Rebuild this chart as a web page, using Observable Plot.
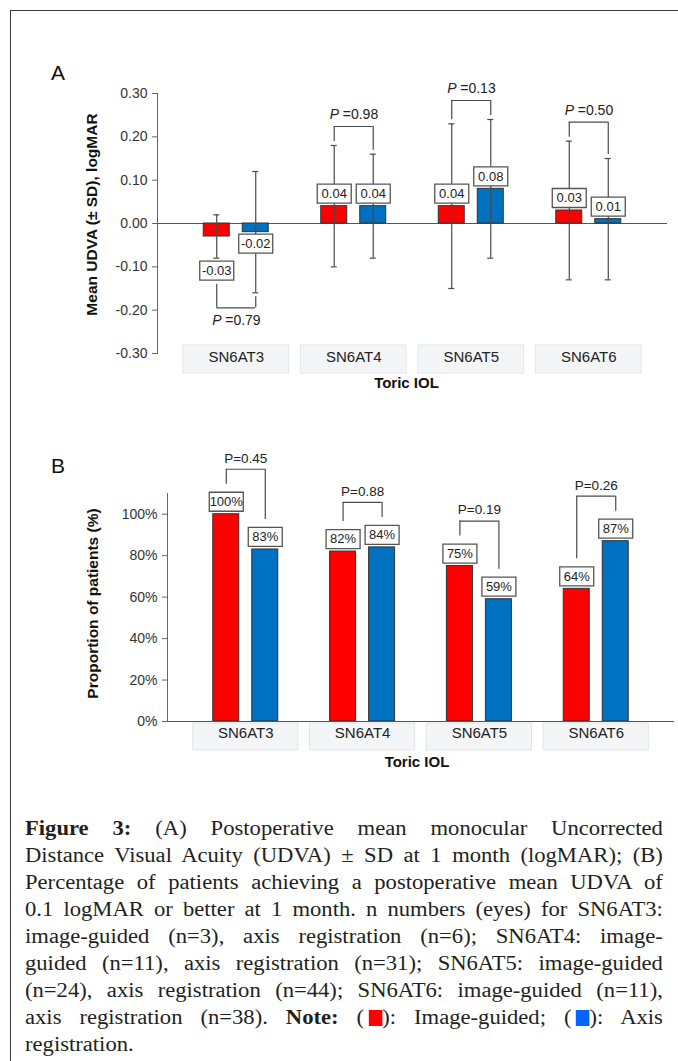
<!DOCTYPE html>
<html><head><meta charset="utf-8">
<script src="https://cdn.jsdelivr.net/npm/d3@7"></script>
<script src="https://cdn.jsdelivr.net/npm/@observablehq/plot@0.6"></script>
<style>
html,body{margin:0;padding:0;background:#fff;}
body{width:678px;height:1061px;overflow:hidden;position:relative;font-family:"Liberation Sans",Arial,sans-serif;}
#border{position:absolute;left:10px;top:10px;width:800px;height:1200px;border-left:1.5px solid #3a3a3a;border-top:1.5px solid #3a3a3a;z-index:5;pointer-events:none;}
.panel{position:absolute;left:0;}
.letter{position:absolute;font-size:21px;line-height:21px;color:#111;}
#caption{position:absolute;left:25px;top:815px;width:564px;transform:scaleX(1.131);transform-origin:0 0;font-family:"Liberation Serif","Times New Roman",serif;font-size:20px;line-height:27px;color:#231f20;}
#caption .j{text-align:justify;text-align-last:justify;}
.sq{display:inline-block;width:12px;height:16px;vertical-align:-2px;margin-left:4px;}
</style></head>
<body>
<div id="pa" class="panel" style="top:0"></div>
<div id="pb" class="panel" style="top:400px"></div>
<div class="letter" style="left:51px;top:62px">A</div>
<div class="letter" style="left:51px;top:455px">B</div>
<div id="caption">
<div class="j"><b>Figure 3:</b> (A) Postoperative mean monocular Uncorrected</div>
<div class="j">Distance Visual Acuity (UDVA) ± SD at 1 month (logMAR); (B)</div>
<div class="j">Percentage of patients achieving a postoperative mean UDVA of</div>
<div class="j">0.1 logMAR or better at 1 month. n numbers (eyes) for SN6AT3:</div>
<div class="j">image-guided (n=3), axis registration (n=6); SN6AT4: image-</div>
<div class="j">guided (n=11), axis registration (n=31); SN6AT5: image-guided</div>
<div class="j">(n=24), axis registration (n=44); SN6AT6: image-guided (n=11),</div>
<div class="j">axis registration (n=38). <b>Note:</b> (<span class="sq" style="background:#ff0000"></span>): Image-guided; (<span class="sq" style="background:#0066ff"></span>): Axis</div>
<div>registration.</div>
</div>
<div id="border"></div>
<script>
// ---------- DATA ----------
const categories = ["SN6AT3", "SN6AT4", "SN6AT5", "SN6AT6"];
const series = ["Image-guided", "Axis registration"];
const seriesColors = ["#ff0000", "#0070c0"];
const udvaMeanImage = [-0.03, 0.04, 0.04, 0.03];
const udvaSdImage   = [0.05, 0.14, 0.19, 0.16];
const udvaMeanAxis  = [-0.02, 0.04, 0.08, 0.01];
const udvaSdAxis    = [0.14, 0.12, 0.16, 0.14];
const udvaP = ["0.79", "0.98", "0.13", "0.50"];
const propImage = [1.00, 0.82, 0.75, 0.64];
const propAxis  = [0.83, 0.84, 0.59, 0.87];
const propP = ["0.45", "0.88", "0.19", "0.26"];
const udvaDomain = [-0.3, 0.3];
const udvaTicks = [-0.3, -0.2, -0.1, 0, 0.1, 0.2, 0.3];
const propDomain = [0, 1.1];
const propTicks = [0, 0.2, 0.4, 0.6, 0.8, 1.0];
const xTitle = "Toric IOL";
const yTitleA = "Mean UDVA (± SD), logMAR";
const yTitleB = "Proportion of patients (%)";

// ---------- STYLE / GEOMETRY ----------
const FONT = '"Liberation Sans", Arial, Helvetica, sans-serif';
const W = 678;
const PI = 0.1, PO = 0.22;
const OFF = 19.5, BAR_W = 26, CAP_W = 6, BOX_W = 34, BOX_H = 19;
const AXIS_GRAY = "#666", ERR = "#4a4a4a", DARK = "#222";
const bandwidth = (innerW) => innerW / (categories.length - PI + 2 * PO) * (1 - PI);
const rectSymbol = (w, h) => ({draw(ctx) {
  ctx.moveTo(-w / 2, -h / 2); ctx.lineTo(w / 2, -h / 2); ctx.lineTo(w / 2, h / 2); ctx.lineTo(-w / 2, h / 2); ctx.closePath();
}});
const bySeries = (rows, f) => [0, 1].flatMap((s) => f(rows.filter((d) => d.s === s), s ? OFF : -OFF, s));

// ---------- PANEL A ----------
const A = {height: 400, top: 93, right: 11, bottom: 47, left: 157};
const bwA = bandwidth(W - A.left - A.right);
const kA = (udvaDomain[1] - udvaDomain[0]) / (A.height - A.top - A.bottom);

const rowsA = [];
categories.forEach((cat, i) => {
  [[udvaMeanImage[i], udvaSdImage[i]], [udvaMeanAxis[i], udvaSdAxis[i]]].forEach(([mean, sd], s) => {
    let labelY;
    if (mean >= 0) labelY = mean + 12.5 * kA;
    else if (sd / kA < 30) labelY = mean - sd - 12.5 * kA;
    else labelY = mean - 11.5 * kA;
    rowsA.push({cat, s, mean, sd, lo: mean - sd, hi: mean + sd, labelY, text: mean.toFixed(2)});
  });
});
const bracketsA = categories.map((cat, i) => {
  const pair = rowsA.filter((d) => d.cat === cat);
  const below = pair.every((d) => d.mean < 0);
  let level, legs, pY;
  if (!below) {
    const tops = pair.map((d) => Math.max(d.hi, d.labelY + (BOX_H / 2) * kA));
    level = Math.max(...tops) + 19 * kA;
    legs = tops.map((t) => t + 4 * kA);
    pY = level + 12 * kA;
  } else {
    const bots = pair.map((d) => Math.min(d.lo, d.labelY - (BOX_H / 2) * kA));
    level = Math.min(...bots) - 15 * kA;
    legs = bots.map((b) => b - 4 * kA);
    pY = level - 13 * kA;
  }
  return {cat, level, legs, pY, p: udvaP[i]};
});
const legsA = bracketsA.flatMap((b) => b.legs.map((y, s) => ({cat: b.cat, s, y1: y, y2: b.level})));

const plotA = Plot.plot({
  width: W, height: A.height,
  marginTop: A.top, marginRight: A.right, marginBottom: A.bottom, marginLeft: A.left,
  style: {fontFamily: FONT, fontSize: "13px", color: "#333", background: "none", overflow: "visible"},
  x: {type: "band", domain: categories, paddingInner: PI, paddingOuter: PO, round: false, axis: null},
  y: {domain: udvaDomain},
  marks: [
    Plot.cell(categories, {x: (d) => d, fill: "#f4f5f7", stroke: "#e3e4e7", insetTop: 252, insetBottom: -20}),
    Plot.ruleY([0], {stroke: "#555", strokeWidth: 1.2}),
    ...bySeries(rowsA, (rows, dx, s) => [
      Plot.barY(rows, {x: "cat", y: "mean", fill: seriesColors[s], stroke: "#333", strokeWidth: 1,
        insetLeft: (bwA - BAR_W) / 2, insetRight: (bwA - BAR_W) / 2, dx}),
      Plot.ruleX(rows, {x: "cat", y1: "lo", y2: "hi", stroke: ERR, strokeWidth: 1.2, dx}),
      Plot.tickY(rows, {x: "cat", y: "lo", stroke: ERR, strokeWidth: 1.2, insetLeft: (bwA - CAP_W) / 2, insetRight: (bwA - CAP_W) / 2, dx}),
      Plot.tickY(rows, {x: "cat", y: "hi", stroke: ERR, strokeWidth: 1.2, insetLeft: (bwA - CAP_W) / 2, insetRight: (bwA - CAP_W) / 2, dx})
    ]),
    ...bySeries(legsA, (rows, dx) => [
      Plot.ruleX(rows, {x: "cat", y1: "y1", y2: "y2", stroke: ERR, strokeWidth: 1.2, dx})
    ]),
    Plot.tickY(bracketsA, {x: "cat", y: "level", stroke: ERR, strokeWidth: 1.2, insetLeft: bwA / 2 - OFF, insetRight: bwA / 2 - OFF}),
    Plot.text(bracketsA, {x: "cat", y: "pY", text: () => "P", fontStyle: "italic", fontSize: 14, textAnchor: "start", dx: -24, fill: DARK}),
    Plot.text(bracketsA, {x: "cat", y: "pY", text: (d) => "=" + d.p, fontSize: 14, textAnchor: "start", dx: -11, fill: DARK}),
    ...bySeries(rowsA, (rows, dx) => [
      Plot.dot(rows, {x: "cat", y: "labelY", symbol: rectSymbol(BOX_W, BOX_H), fill: "white", stroke: "#555", strokeWidth: 1.3, dx}),
      Plot.text(rows, {x: "cat", y: "labelY", text: "text", fontSize: 13, fill: DARK, dx})
    ]),
    Plot.axisY({ticks: udvaTicks, tickFormat: (d) => d.toFixed(2), tickSize: 5, tickPadding: 5, fontSize: 14, stroke: AXIS_GRAY, label: null}),
    Plot.frame({anchor: "left", stroke: AXIS_GRAY}),
    Plot.text(categories, {x: (d) => d, text: (d) => d, frameAnchor: "bottom", dy: 8, fontSize: 15, fill: DARK}),
    Plot.text([xTitle], {text: (d) => d, frameAnchor: "bottom", textAnchor: "middle", dy: 34, dx: -6, fontSize: 15, fontWeight: "bold", fill: "#111"}),
    Plot.text([yTitleA], {text: (d) => d, frameAnchor: "left", textAnchor: "middle", rotate: -90, dx: -65, dy: -9, fontSize: 15.5, fontWeight: "bold", fill: "#111"})
  ]
});
document.getElementById("pa").appendChild(plotA);

// ---------- PANEL B ----------
const B = {height: 380, top: 93, right: 4, bottom: 59, left: 167};
const bwB = bandwidth(W - B.left - B.right);
const kB = (propDomain[1] - propDomain[0]) / (B.height - B.top - B.bottom);
const rowsB = [];
categories.forEach((cat, i) => {
  [propImage[i], propAxis[i]].forEach((v, s) => {
    rowsB.push({cat, s, v, labelY: v + 12.5 * kB, text: Math.round(v * 100) + "%"});
  });
});
const bracketsB = categories.map((cat, i) => {
  const pair = rowsB.filter((d) => d.cat === cat);
  const level = Math.max(...pair.map((d) => d.v)) + 45 * kB;
  return {cat, level, legs: pair.map((d) => d.v + 30 * kB), pY: level + 11 * kB, p: "P=" + propP[i]};
});
const legsB = bracketsB.flatMap((b) => b.legs.map((y, s) => ({cat: b.cat, s, y1: y, y2: b.level})));

const plotB = Plot.plot({
  width: W, height: B.height,
  marginTop: B.top, marginRight: B.right, marginBottom: B.bottom, marginLeft: B.left,
  style: {fontFamily: FONT, fontSize: "13px", color: "#333", background: "none", overflow: "visible"},
  x: {type: "band", domain: categories, paddingInner: PI, paddingOuter: PO, round: false, axis: null},
  y: {domain: propDomain},
  marks: [
    Plot.cell(categories, {x: (d) => d, fill: "#f4f5f7", stroke: "#e3e4e7", insetTop: 230, insetBottom: -29}),
    ...bySeries(rowsB, (rows, dx, s) => [
      Plot.barY(rows, {x: "cat", y: "v", fill: seriesColors[s], stroke: "#333", strokeWidth: 1,
        insetLeft: (bwB - BAR_W) / 2, insetRight: (bwB - BAR_W) / 2, dx})
    ]),
    Plot.ruleY([0], {stroke: "#555", strokeWidth: 1.2}),
    ...bySeries(legsB, (rows, dx) => [
      Plot.ruleX(rows, {x: "cat", y1: "y1", y2: "y2", stroke: ERR, strokeWidth: 1.2, dx})
    ]),
    Plot.tickY(bracketsB, {x: "cat", y: "level", stroke: ERR, strokeWidth: 1.2, insetLeft: bwB / 2 - OFF, insetRight: bwB / 2 - OFF}),
    Plot.text(bracketsB, {x: "cat", y: "pY", text: "p", fontSize: 13.5, fill: DARK}),
    ...bySeries(rowsB, (rows, dx) => [
      Plot.dot(rows, {x: "cat", y: "labelY", symbol: rectSymbol(BOX_W, BOX_H), fill: "white", stroke: "#555", strokeWidth: 1.3, dx}),
      Plot.text(rows, {x: "cat", y: "labelY", text: "text", fontSize: 13, fill: DARK, dx})
    ]),
    Plot.axisY({ticks: propTicks, tickFormat: (d) => Math.round(d * 100) + "%", tickSize: 5, tickPadding: 5, fontSize: 14, stroke: AXIS_GRAY, label: null}),
    Plot.frame({anchor: "left", stroke: AXIS_GRAY}),
    Plot.text(categories, {x: (d) => d, text: (d) => d, frameAnchor: "bottom", dy: 16, fontSize: 15, fill: DARK}),
    Plot.text([xTitle], {text: (d) => d, frameAnchor: "bottom", textAnchor: "middle", dy: 45, dx: -4, fontSize: 15, fontWeight: "bold", fill: "#111"}),
    Plot.text([yTitleB], {text: (d) => d, frameAnchor: "left", textAnchor: "middle", rotate: -90, dx: -74, dy: -4, fontSize: 15.5, fontWeight: "bold", fill: "#111"})
  ]
});
document.getElementById("pb").appendChild(plotB);
</script>
</body></html>
